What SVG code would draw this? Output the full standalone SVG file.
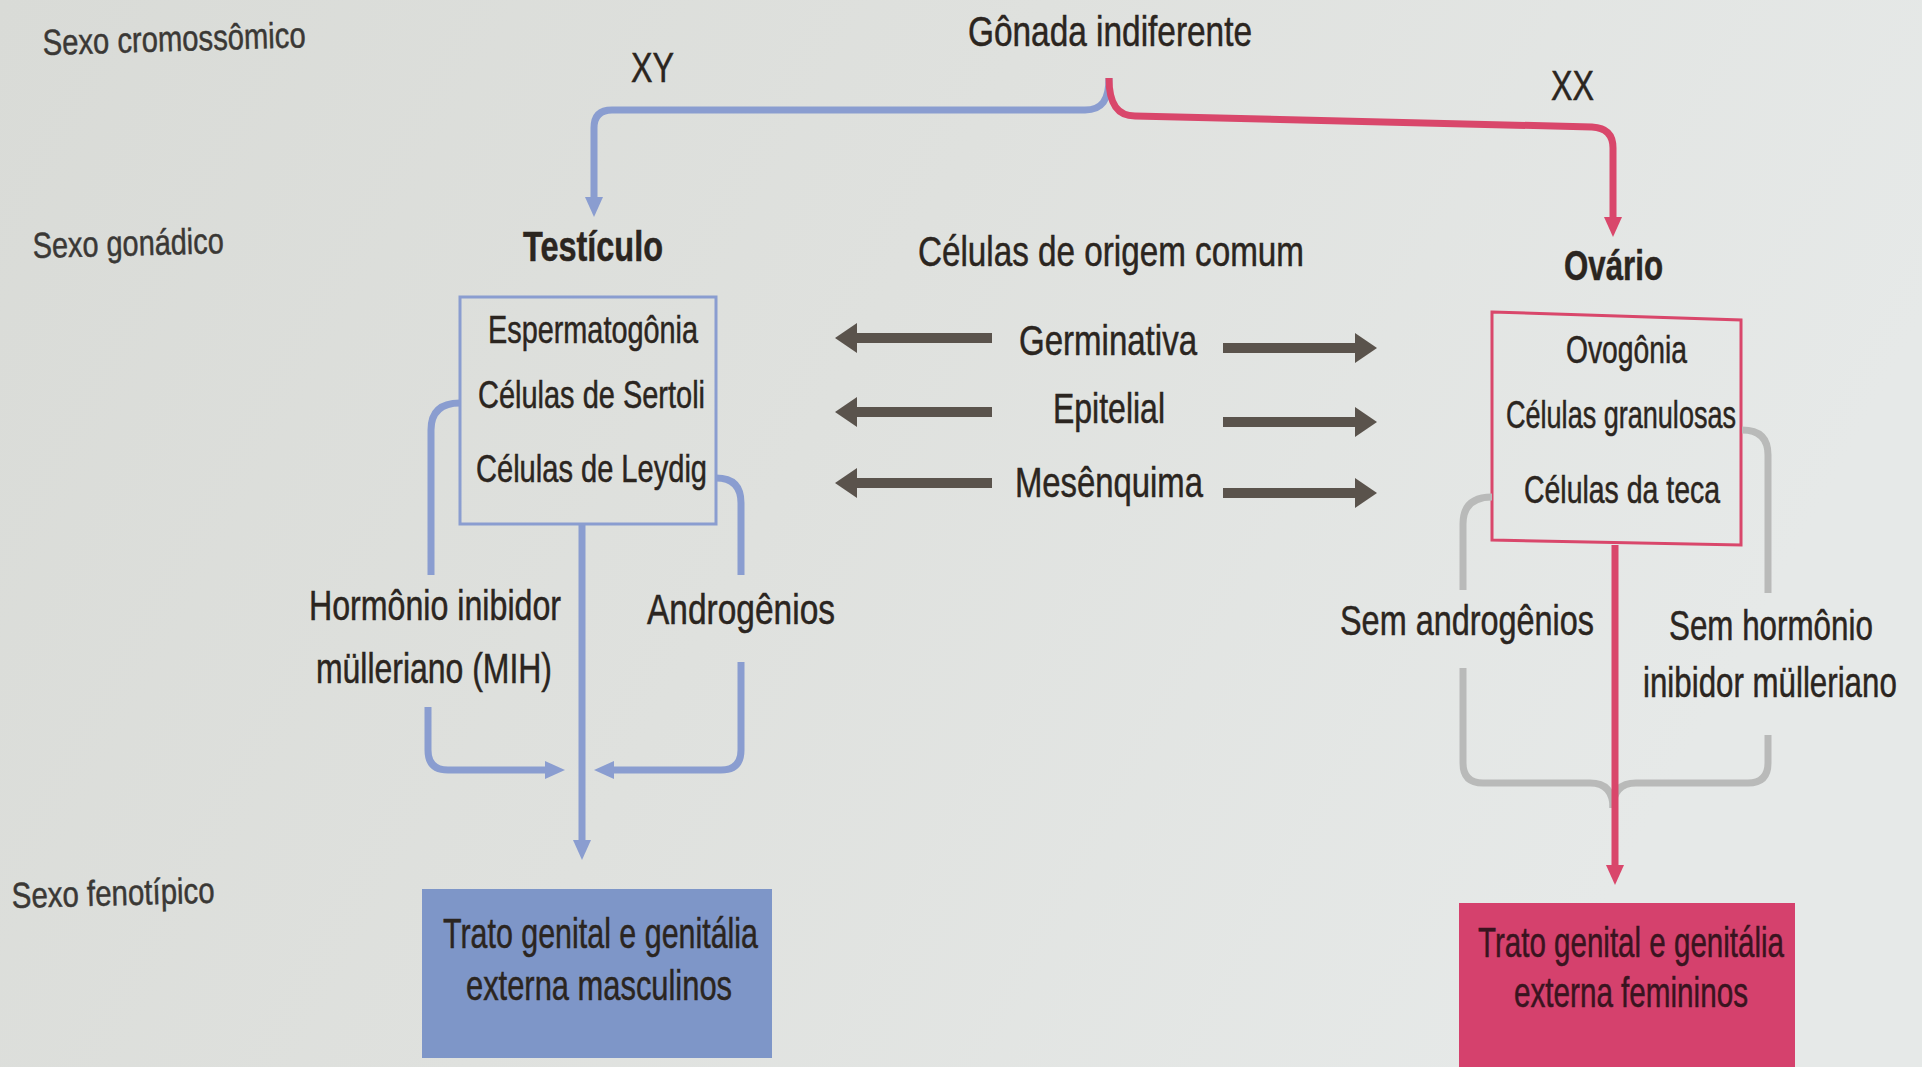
<svg xmlns="http://www.w3.org/2000/svg" width="1922" height="1067" viewBox="0 0 1922 1067">
<defs>
<linearGradient id="bg" x1="0" y1="0" x2="1" y2="0.3">
<stop offset="0" stop-color="#d9dbd7"/>
<stop offset="0.5" stop-color="#dfe1de"/>
<stop offset="1" stop-color="#e6e9e8"/>
</linearGradient>
<marker id="ahBlue" markerUnits="userSpaceOnUse" viewBox="0 0 20 18" refX="0" refY="9" markerWidth="20" markerHeight="18" orient="auto"><path d="M0,0 L20,9 L0,18 z" fill="#8a9dd0"/></marker>
<marker id="ahRed" markerUnits="userSpaceOnUse" viewBox="0 0 20 18" refX="0" refY="9" markerWidth="20" markerHeight="18" orient="auto"><path d="M0,0 L20,9 L0,18 z" fill="#d9476b"/></marker>
<marker id="ahDark" markerUnits="userSpaceOnUse" viewBox="0 0 22 30" refX="0" refY="15" markerWidth="22" markerHeight="30" orient="auto"><path d="M0,0 L22,15 L0,30 z" fill="#5a534c"/></marker>
</defs>
<style>
text{font-family:"Liberation Sans",Arial,sans-serif;fill:#2b2520;stroke:#2b2520;stroke-width:0.5}
.side{font-size:36px;fill:#3a3835;stroke:#3a3835}
.t42{font-size:42px}
.t38{font-size:38px}
.b{font-weight:bold}
.blue{fill:none;stroke:#8a9dd0;stroke-width:7}
.red{fill:none;stroke:#d9476b;stroke-width:7}
.grey{fill:none;stroke:#b9bab9;stroke-width:7}
.dark{fill:none;stroke:#5a534c;stroke-width:10}
</style>
<rect width="1922" height="1067" fill="url(#bg)"/>

<g id="labels">
<text class="side" x="43" y="55" textLength="263" lengthAdjust="spacingAndGlyphs" transform="rotate(-1.7 43 55)">Sexo cromossômico</text>
<text class="side" x="33" y="258" textLength="191" lengthAdjust="spacingAndGlyphs" transform="rotate(-1.5 33 258)">Sexo gonádico</text>
<text class="side" x="12" y="908" textLength="203" lengthAdjust="spacingAndGlyphs" transform="rotate(-1.5 12 908)">Sexo fenotípico</text>
</g>

<g id="gonada">
<text class="t42" x="968" y="46" textLength="284" lengthAdjust="spacingAndGlyphs">Gônada indiferente</text>
</g>
<g id="xy"><text class="t42" x="631" y="82" textLength="43" lengthAdjust="spacingAndGlyphs">XY</text></g>
<g id="xx"><text class="t42" x="1551" y="100" textLength="43" lengthAdjust="spacingAndGlyphs">XX</text></g>

<g id="testiculo">
<text class="t42 b" x="523" y="261" textLength="140" lengthAdjust="spacingAndGlyphs">Testículo</text>
<rect x="460" y="297" width="256" height="227" fill="none" stroke="#8a9dd0" stroke-width="3"/>
<text class="t38" x="488" y="343" textLength="210" lengthAdjust="spacingAndGlyphs">Espermatogônia</text>
<text class="t38" x="478" y="408" textLength="227" lengthAdjust="spacingAndGlyphs">Células de Sertoli</text>
<text class="t38" x="476" y="482" textLength="231" lengthAdjust="spacingAndGlyphs">Células de Leydig</text>
</g>

<g id="celulas-comum">
<text class="t42" x="918" y="266" textLength="386" lengthAdjust="spacingAndGlyphs">Células de origem comum</text>
<text class="t42" x="1019" y="355" textLength="178" lengthAdjust="spacingAndGlyphs">Germinativa</text>
<text class="t42" x="1053" y="423" textLength="112" lengthAdjust="spacingAndGlyphs">Epitelial</text>
<text class="t42" x="1015" y="497" textLength="188" lengthAdjust="spacingAndGlyphs">Mesênquima</text>
</g>

<g id="ovario">
<text class="t42 b" x="1564" y="280" textLength="99" lengthAdjust="spacingAndGlyphs">Ovário</text>
<path d="M1492,312 L1741,320 L1741,545 L1492,540 Z" fill="none" stroke="#d9476b" stroke-width="3"/>
<text class="t38" x="1566" y="363" textLength="121" lengthAdjust="spacingAndGlyphs">Ovogônia</text>
<text class="t38" x="1506" y="428" textLength="230" lengthAdjust="spacingAndGlyphs">Células granulosas</text>
<text class="t38" x="1524" y="503" textLength="196" lengthAdjust="spacingAndGlyphs">Células da teca</text>
</g>

<g id="mih"><text class="t42" x="309" y="620" textLength="252" lengthAdjust="spacingAndGlyphs">Hormônio inibidor</text>
<text class="t42" x="316" y="683" textLength="236" lengthAdjust="spacingAndGlyphs">mülleriano (MIH)</text></g>
<g id="androgenios"><text class="t42" x="647" y="624" textLength="188" lengthAdjust="spacingAndGlyphs">Androgênios</text></g>
<g id="sem-androgenios"><text class="t42" x="1340" y="635" textLength="254" lengthAdjust="spacingAndGlyphs">Sem androgênios</text></g>
<g id="sem-mih"><text class="t42" transform="translate(1669 640) scale(0.747 1)">Sem hormônio</text>
<text class="t42" transform="translate(1643 697) scale(0.745 1)">inibidor mülleriano</text></g>

<g id="masculino">
<rect x="422" y="889" width="350" height="169" fill="#7e96c8"/>
<text class="t42" x="443" y="948" textLength="315" lengthAdjust="spacingAndGlyphs">Trato genital e genitália</text>
<text class="t42" x="466" y="1000" textLength="266" lengthAdjust="spacingAndGlyphs">externa masculinos</text>
</g>
<g id="feminino">
<rect x="1459" y="903" width="336" height="170" fill="#d5416d"/>
<text class="t42" x="1478" y="957" textLength="306" lengthAdjust="spacingAndGlyphs" style="fill:#3a1420;stroke:#3a1420">Trato genital e genitália</text>
<text class="t42" x="1514" y="1007" textLength="234" lengthAdjust="spacingAndGlyphs" style="fill:#3a1420;stroke:#3a1420">externa femininos</text>
</g>

<g id="connectors">
<path class="blue" d="M1109,78 C1109,100 1102,110 1085,110 L612,110 Q594,110 594,128 L594,197" marker-end="url(#ahBlue)" stroke-width="9"/>
<path class="red" d="M1109,78 C1109,105 1118,116 1135,116 L1592,127 Q1613,128 1613,148 L1613,217" marker-end="url(#ahRed)" stroke-width="9"/>
<path class="blue" d="M582,524 L582,840" marker-end="url(#ahBlue)" stroke-width="6"/>
<path class="blue" d="M460,403 Q431,403 431,430 L431,575"/>
<path class="blue" d="M428,707 L428,750 Q428,770 448,770 L545,770" marker-end="url(#ahBlue)"/>
<path class="blue" d="M716,478 Q741,478 741,503 L741,575"/>
<path class="blue" d="M741,662 L741,750 Q741,770 721,770 L614,770" marker-end="url(#ahBlue)"/>
<path class="grey" d="M1492,497 Q1463,497 1463,524 L1463,590"/>
<path class="grey" d="M1463,668 L1463,763 Q1463,783 1483,783 L1590,783 Q1613,783 1613,808"/>
<path class="grey" d="M1742,430 Q1768,430 1768,455 L1768,593"/>
<path class="grey" d="M1768,735 L1768,763 Q1768,783 1748,783 L1636,783 Q1613,783 1613,808"/>
<path class="red" d="M1615,545 L1615,865" marker-end="url(#ahRed)" stroke-width="6"/>
<path class="dark" d="M992,338 L857,338" marker-end="url(#ahDark)"/>
<path class="dark" d="M992,412 L857,412" marker-end="url(#ahDark)"/>
<path class="dark" d="M992,483 L857,483" marker-end="url(#ahDark)"/>
<path class="dark" d="M1223,348 L1355,348" marker-end="url(#ahDark)"/>
<path class="dark" d="M1223,422 L1355,422" marker-end="url(#ahDark)"/>
<path class="dark" d="M1223,493 L1355,493" marker-end="url(#ahDark)"/>
</g>
</svg>
